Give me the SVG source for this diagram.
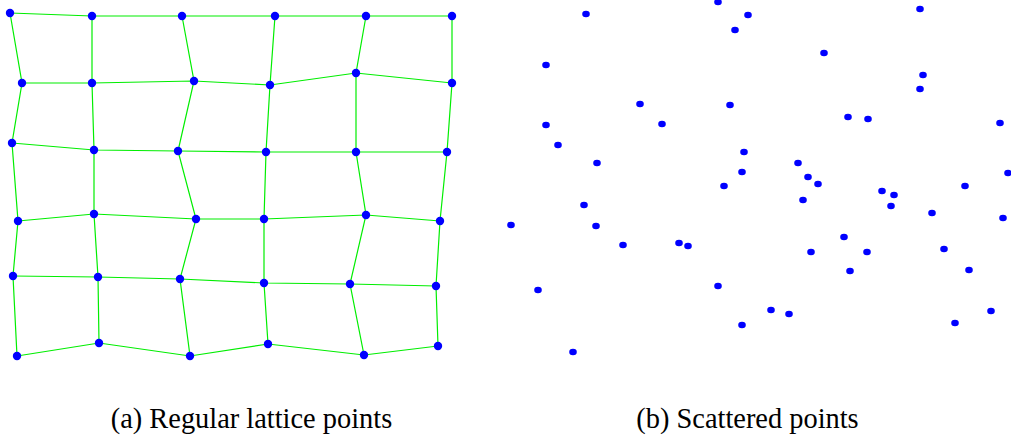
<svg xmlns="http://www.w3.org/2000/svg" width="1011" height="442" viewBox="0 0 1011 442">
<style>
.e{stroke:#00ee00;stroke-width:1.2;fill:none}
.n{fill:#0000ff}
.cap{font-family:"Liberation Serif",serif;font-size:28.4px;fill:#000;text-anchor:middle}
</style>
<rect width="1011" height="442" fill="#fff"/>
<g id="connectors" class="e">
<polyline points="10,13 92,16 182,16 275,16 366,16 452,16"/>
<polyline points="22,83 92,83 194,81 270,85 356,73 452,83"/>
<polyline points="12,143 94,150 178,151 266,152 356,152 447,152"/>
<polyline points="18,221 94,214 196,219 264,219 366,215 440,221"/>
<polyline points="13,276 98,277 180,279 264,283 350,284 436,286"/>
<polyline points="17,356 99,343 190,356 268,344 364,355 438,346"/>
<polyline points="10,13 22,83 12,143 18,221 13,276 17,356"/>
<polyline points="92,16 92,83 94,150 94,214 98,277 99,343"/>
<polyline points="182,16 194,81 178,151 196,219 180,279 190,356"/>
<polyline points="275,16 270,85 266,152 264,219 264,283 268,344"/>
<polyline points="366,16 356,73 356,152 366,215 350,284 364,355"/>
<polyline points="452,16 452,83 447,152 440,221 436,286 438,346"/>
</g>
<g id="lattice" class="n">
<circle cx="10" cy="13" r="4.2"/><circle cx="92" cy="16" r="4.2"/><circle cx="182" cy="16" r="4.2"/><circle cx="275" cy="16" r="4.2"/><circle cx="366" cy="16" r="4.2"/><circle cx="452" cy="16" r="4.2"/>
<circle cx="22" cy="83" r="4.2"/><circle cx="92" cy="83" r="4.2"/><circle cx="194" cy="81" r="4.2"/><circle cx="270" cy="85" r="4.2"/><circle cx="356" cy="73" r="4.2"/><circle cx="452" cy="83" r="4.2"/>
<circle cx="12" cy="143" r="4.2"/><circle cx="94" cy="150" r="4.2"/><circle cx="178" cy="151" r="4.2"/><circle cx="266" cy="152" r="4.2"/><circle cx="356" cy="152" r="4.2"/><circle cx="447" cy="152" r="4.2"/>
<circle cx="18" cy="221" r="4.2"/><circle cx="94" cy="214" r="4.2"/><circle cx="196" cy="219" r="4.2"/><circle cx="264" cy="219" r="4.2"/><circle cx="366" cy="215" r="4.2"/><circle cx="440" cy="221" r="4.2"/>
<circle cx="13" cy="276" r="4.2"/><circle cx="98" cy="277" r="4.2"/><circle cx="180" cy="279" r="4.2"/><circle cx="264" cy="283" r="4.2"/><circle cx="350" cy="284" r="4.2"/><circle cx="436" cy="286" r="4.2"/>
<circle cx="17" cy="356" r="4.2"/><circle cx="99" cy="343" r="4.2"/><circle cx="190" cy="356" r="4.2"/><circle cx="268" cy="344" r="4.2"/><circle cx="364" cy="355" r="4.2"/><circle cx="438" cy="346" r="4.2"/>
</g>
<g id="scattered" class="n">
<ellipse cx="586" cy="14" rx="3.8" ry="3.2"/><ellipse cx="718" cy="2" rx="3.8" ry="3.2"/><ellipse cx="748" cy="15" rx="3.8" ry="3.2"/><ellipse cx="735" cy="30" rx="3.8" ry="3.2"/>
<ellipse cx="546" cy="65" rx="3.8" ry="3.2"/><ellipse cx="640" cy="104" rx="3.8" ry="3.2"/><ellipse cx="730" cy="105" rx="3.8" ry="3.2"/><ellipse cx="546" cy="125" rx="3.8" ry="3.2"/>
<ellipse cx="662" cy="124" rx="3.8" ry="3.2"/><ellipse cx="558" cy="145" rx="3.8" ry="3.2"/><ellipse cx="744" cy="152" rx="3.8" ry="3.2"/><ellipse cx="597" cy="163" rx="3.8" ry="3.2"/>
<ellipse cx="742" cy="172" rx="3.8" ry="3.2"/><ellipse cx="724" cy="186" rx="3.8" ry="3.2"/>
<ellipse cx="920" cy="9" rx="3.8" ry="3.2"/><ellipse cx="824" cy="53" rx="3.8" ry="3.2"/><ellipse cx="923" cy="75" rx="3.8" ry="3.2"/><ellipse cx="920" cy="89" rx="3.8" ry="3.2"/>
<ellipse cx="848" cy="117" rx="3.8" ry="3.2"/><ellipse cx="868" cy="119" rx="3.8" ry="3.2"/><ellipse cx="1000" cy="123" rx="3.8" ry="3.2"/><ellipse cx="798" cy="163" rx="3.8" ry="3.2"/>
<ellipse cx="808" cy="177" rx="3.8" ry="3.2"/><ellipse cx="818" cy="184" rx="3.8" ry="3.2"/><ellipse cx="1008" cy="173" rx="3.8" ry="3.2"/><ellipse cx="965" cy="186" rx="3.8" ry="3.2"/>
<ellipse cx="882" cy="191" rx="3.8" ry="3.2"/><ellipse cx="894" cy="195" rx="3.8" ry="3.2"/><ellipse cx="891" cy="206" rx="3.8" ry="3.2"/><ellipse cx="803" cy="200" rx="3.8" ry="3.2"/>
<ellipse cx="932" cy="213" rx="3.8" ry="3.2"/><ellipse cx="1003" cy="218" rx="3.8" ry="3.2"/><ellipse cx="844" cy="237" rx="3.8" ry="3.2"/><ellipse cx="811" cy="252" rx="3.8" ry="3.2"/>
<ellipse cx="867" cy="252" rx="3.8" ry="3.2"/><ellipse cx="944" cy="249" rx="3.8" ry="3.2"/><ellipse cx="850" cy="271" rx="3.8" ry="3.2"/><ellipse cx="969" cy="270" rx="3.8" ry="3.2"/>
<ellipse cx="771" cy="310" rx="3.8" ry="3.2"/><ellipse cx="789" cy="314" rx="3.8" ry="3.2"/><ellipse cx="991" cy="311" rx="3.8" ry="3.2"/><ellipse cx="955" cy="323" rx="3.8" ry="3.2"/>
<ellipse cx="584" cy="205" rx="3.8" ry="3.2"/><ellipse cx="511" cy="225" rx="3.8" ry="3.2"/><ellipse cx="596" cy="226" rx="3.8" ry="3.2"/><ellipse cx="623" cy="245" rx="3.8" ry="3.2"/>
<ellipse cx="679" cy="243" rx="3.8" ry="3.2"/><ellipse cx="688" cy="246" rx="3.8" ry="3.2"/><ellipse cx="718" cy="286" rx="3.8" ry="3.2"/><ellipse cx="538" cy="290" rx="3.8" ry="3.2"/>
<ellipse cx="742" cy="325" rx="3.8" ry="3.2"/><ellipse cx="573" cy="352" rx="3.8" ry="3.2"/>
</g>
<g id="captions">
<text class="cap" x="251.5" y="428">(a) Regular lattice points</text>
<text class="cap" x="747.5" y="428">(b) Scattered points</text>
</g>
</svg>
